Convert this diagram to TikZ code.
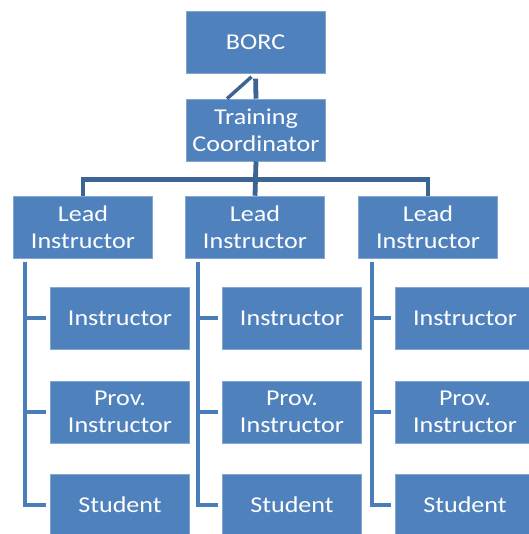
\documentclass[tikz,border=0pt]{standalone}
\usepackage{fontspec}
\setmainfont{Carlito}[FakeStretch=1.15]
\usepackage{tikz}

\definecolor{boxblue}{HTML}{4F81BD}
\definecolor{busblue}{HTML}{3C6594}
\definecolor{railblue}{HTML}{4A7EBB}

\tikzset{
	unit/.style={fill=boxblue,draw=boxblue!70!white,line width=0.4pt,text=white,align=center,
		minimum width=104pt,minimum height=46.5pt,inner sep=0pt,
		font=\fontsize{17}{20}\selectfont},
	bus/.style={draw=busblue,line width=3.6pt},
	rail/.style={draw=railblue,line width=3pt}
}

\begin{document}
\begin{tikzpicture}[x=0.75pt,y=-0.75pt]
	\useasboundingbox (0,0) rectangle (528,534);
	% top of the tree
	\node[unit] (borc) at (255.5,42) {BORC};
	\node[unit] (coord) at (256,130) {Training\\Coordinator};
	\draw[bus,shorten >=4pt] (coord.north) -- (borc.south);
	\draw[bus,line width=2.6pt,shorten >=4pt] (coord.north) ++(-29,0) -- (borc.south);
	% lead instructors
	\node[unit] (lead1) at (83,227) {Lead\\Instructor};
	\node[unit] (lead2) at (255,227) {Lead\\Instructor};
	\node[unit] (lead3) at (428,227) {Lead\\Instructor};
	\draw[bus] (lead1.north) -- ++(0,-16) -| (lead3.north);
	\draw[bus] (coord.south) -- (lead2.north);
	% one column of staff under each lead
	\foreach \c/\r [count=\i] in {120/25,292/198,465/372} {
		\node[unit] (ins\i) at (\c,318) {Instructor};
		\node[unit] (prov\i) at (\c,412) {Prov.\\Instructor};
		\node[unit] (stu\i) at (\c,505) {Student};
		\coordinate (top\i) at (\r,262);
		\draw[rail,shorten >=3pt] (top\i) |- (stu\i.west);
		\draw[rail,shorten >=3pt] (top\i |- ins\i.west) -- (ins\i.west);
		\draw[rail,shorten >=3pt] (top\i |- prov\i.west) -- (prov\i.west);
	}
\end{tikzpicture}
\end{document}
